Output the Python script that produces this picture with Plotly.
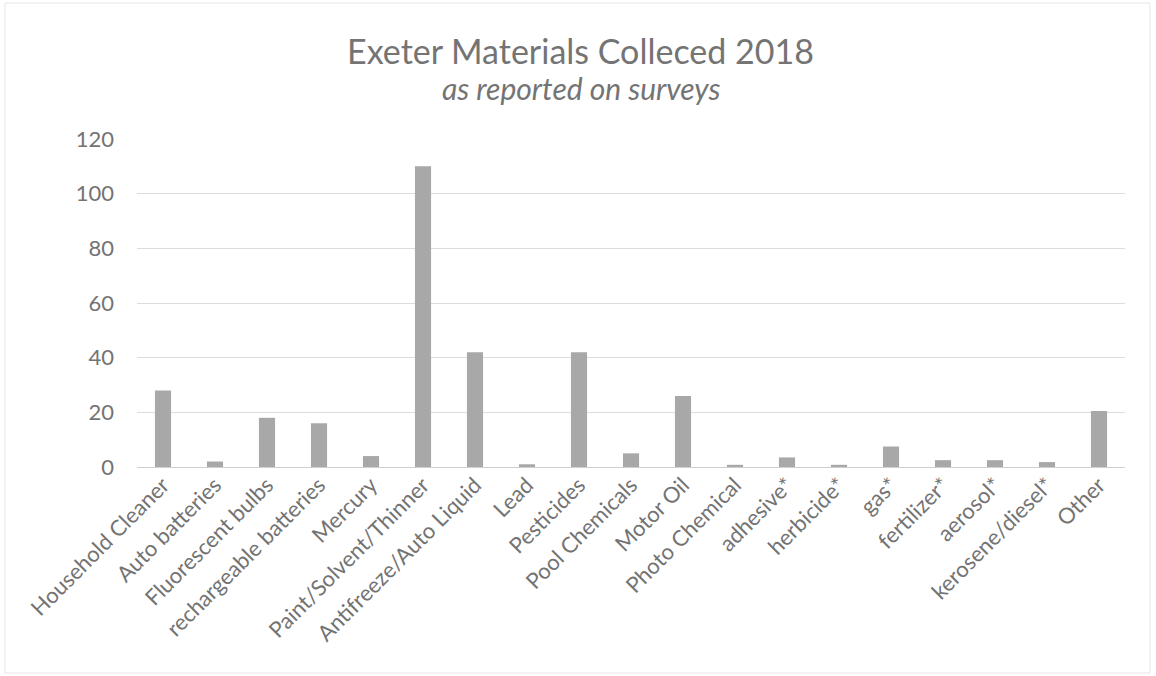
import plotly.graph_objects as go

categories = ["Household Cleaner", "Auto batteries", "Fluorescent bulbs", "rechargeable batteries",
              "Mercury", "Paint/Solvent/Thinner", "Antifreeze/Auto Liquid", "Lead", "Pesticides",
              "Pool Chemicals", "Motor Oil", "Photo Chemical", "adhesive*", "herbicide*", "gas*",
              "fertilizer*", "aerosol*", "kerosene/diesel*", "Other"]
values = [28, 2, 18, 16, 4, 110, 42, 1, 42, 5, 26, 0.8, 3.5, 0.8, 7.5, 2.5, 2.5, 1.8, 20.5]
y_ticks = [0, 20, 40, 60, 80, 100, 120]

W, H = 1156, 676
L, R, T, B = 137, 31, 139, 209
pw, ph = W - L - R, H - T - B

def px(x):
    return (x - L) / pw

def py(y):
    return (H - B - y) / ph

FONT = "Lato, 'Open Sans', sans-serif"
GRAY = "#737373"

fig = go.Figure(go.Bar(x=categories, y=values, marker=dict(color="#a8a8a8", line=dict(width=0))))

fig.update_layout(
    width=W, height=H,
    margin=dict(l=L, r=R, t=T, b=B),
    paper_bgcolor="white", plot_bgcolor="white",
    bargap=0.69,
    showlegend=False,
    font=dict(family=FONT, color=GRAY),
    xaxis=dict(tickangle=-45, tickfont=dict(size=22, color=GRAY), showgrid=False,
               showline=False, ticks="", automargin=False),
    yaxis=dict(range=[0, 120], tickvals=y_ticks, tickfont=dict(size=22, color=GRAY),
               showgrid=True, gridcolor="#dcdcdc", gridwidth=1, zeroline=True,
               zerolinecolor="#d0d0d0", zerolinewidth=1, ticks="", ticklen=0,
               ticklabelstandoff=22, automargin=False),
    annotations=[
        dict(text="Exeter Materials Colleced 2018", xref="paper", yref="paper",
             x=px(580), y=py(50), showarrow=False, xanchor="center", yanchor="middle",
             font=dict(size=34, color="#747474", family=FONT)),
        dict(text="<i>as reported on surveys</i>", xref="paper", yref="paper",
             x=px(581), y=py(88), showarrow=False, xanchor="center", yanchor="middle",
             font=dict(size=30, color="#747474", family=FONT)),
    ],
    shapes=[
        dict(type="rect", xref="paper", yref="paper", x0=px(5), x1=px(1150), y0=py(673), y1=py(3),
             line=dict(color="#e6e6e6", width=1), layer="below"),
    ],
)

fig.write_html("out.html")
